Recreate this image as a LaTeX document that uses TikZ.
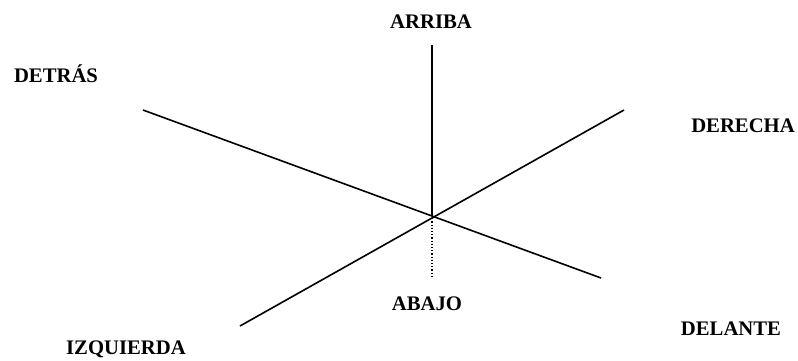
\documentclass[tikz,border=0pt]{standalone}
\usepackage{fontspec}
\setmainfont{Liberation Serif}
\usetikzlibrary{positioning}

\begin{document}
\begin{tikzpicture}[
    x=1pt, y=-1pt,
    % ── Global ──
    axisline/.style={line width=1.6pt, draw=black},
    hiddenline/.style={line width=1.2pt, draw=black, dotted},
    % ── Label Style ──
    dirlabel/.style={
        anchor=base, inner sep=0pt,
        font=\fontsize{20.7}{24}\selectfont\bfseries
    },
]
\useasboundingbox (0,0) rectangle (798,360);

% ════════════════════════════════════════════════════════
%  POINTS
% ════════════════════════════════════════════════════════

\coordinate (O)     at (432,215);
\coordinate (Top)   at (432,45);
\coordinate (Low)   at (432,278);
\coordinate (Back)  at (143,110);
\coordinate (Front) at (601,278);
\coordinate (Left)  at (240,326);
\coordinate (Right) at (624,110);

% ════════════════════════════════════════════════════════
%  LABELS
% ════════════════════════════════════════════════════════

\node (Arriba)    [dirlabel] at (431,28)  {ARRIBA};
\node (Abajo)     [dirlabel] at (427,310) {ABAJO};
\node (Detras)    [dirlabel] at (56,82)   {DETRÁS};
\node (Derecha)   [dirlabel] at (743,132) {DERECHA};
\node (Delante)   [dirlabel] at (731,335) {DELANTE};
\node (Izquierda) [dirlabel] at (126,354) {IZQUIERDA};

% ════════════════════════════════════════════════════════
%  AXES
% ════════════════════════════════════════════════════════

\draw [axisline]   (Top)  -- (O);
\draw [hiddenline] (O)    -- (Low);
\draw [axisline]   (Back) -- (Front);
\draw [axisline]   (Left) -- (Right);

\end{tikzpicture}
\end{document}
